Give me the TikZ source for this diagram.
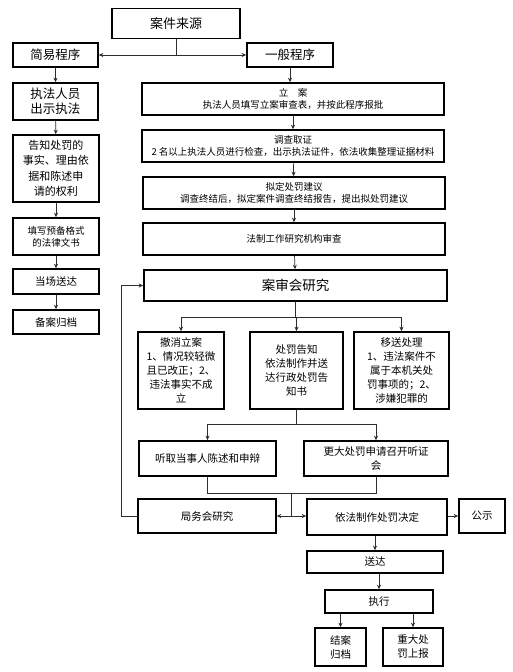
\documentclass[tikz,border=0pt]{standalone}
\usepackage{fontspec}
\usepackage{tikz}
\usetikzlibrary{arrows.meta, positioning, calc}
\newfontfamily\cjk{Noto Sans CJK SC}
\definecolor{mydark}{RGB}{45,45,45}
\tikzset{
  box/.style={rectangle, draw=black, fill=white, line width=1.6pt,
    align=center, inner sep=1pt, font=\cjk\fontsize{10.5}{14}\selectfont},
  bigbox/.style={box, font=\cjk\fontsize{13}{16}\selectfont},
  smallbox/.style={box, font=\cjk\fontsize{9.5}{12}\selectfont},
  arrow/.style={-{Stealth[length=4.5pt,width=4pt]}, line width=0.7pt, color=mydark},
  line/.style={line width=0.7pt, color=mydark}
}
\begin{document}
\begin{tikzpicture}[x=1pt, y=-1pt]
  \fill[white] (0,0) rectangle (512,672);
  \useasboundingbox (0,0) rectangle (512,672);

  % top of the chart
  \node[bigbox, minimum width=128pt, minimum height=30pt] (src) at (176,23.5) {案件来源};
  \node[box, font=\cjk\fontsize{12.5}{15}\selectfont, minimum width=85pt, minimum height=24pt] (simple) at (55.5,55) {简易程序};
  \node[box, font=\cjk\fontsize{12.5}{15}\selectfont, minimum width=86pt, minimum height=24pt] (general) at (290,55) {一般程序};

  % simple procedure
  \node[box, font=\cjk\fontsize{12.5}{15}\selectfont, minimum width=85pt, minimum height=37pt] (show) at (55.5,101.5) {执法人员\\出示执法};
  \node[box, font=\cjk\fontsize{11}{15.5}\selectfont, minimum width=86pt, minimum height=67pt] (notify) at (56,168.5) {告知处罚的\\事实、理由依\\据和陈述申\\请的权利};
  \node[smallbox, minimum width=86pt, minimum height=37pt] (fillin) at (56,236.5) {填写预备格式\\的法律文书};
  \node[box, minimum width=86pt, minimum height=25pt] (spot) at (56,281.5) {当场送达};
  \node[box, minimum width=86pt, minimum height=24pt] (file) at (56,322) {备案归档};

  % general procedure
  \node[smallbox, minimum width=302pt, minimum height=32pt] (lian) at (293,99) {立\quad 案\\执法人员填写立案审查表，并按此程序报批};
  \node[smallbox, minimum width=302pt, minimum height=32pt] (survey) at (293,146) {调查取证\\2 名以上执法人员进行检查，出示执法证件，依法收集整理证据材料};
  \node[smallbox, minimum width=302pt, minimum height=32pt] (propose) at (294,193) {拟定处罚建议\\调查终结后，拟定案件调查终结报告，提出拟处罚建议};
  \node[smallbox, minimum width=302pt, minimum height=32pt] (legal) at (294,239) {法制工作研究机构审查};
  \node[bigbox, font=\cjk\fontsize{13.5}{16}\selectfont, minimum width=303pt, minimum height=31pt] (review) at (295.5,285.5) {案审会研究};

  \node[box, minimum width=86pt, minimum height=77pt] (cancel) at (181,370.5) {撤消立案\\1、情况较轻微\\且已改正；2、\\违法事实不成\\立};
  \node[box, minimum width=93pt, minimum height=77pt] (inform) at (296.5,370.5) {处罚告知\\依法制作并送\\达行政处罚告\\知书};
  \node[box, minimum width=95pt, minimum height=77pt] (transfer) at (401.5,370.5) {移送处理\\1、违法案件不\\属于本机关处\\罚事项的；2、\\涉嫌犯罪的};

  \node[box, minimum width=137pt, minimum height=35pt] (hear) at (207.5,458.5) {听取当事人陈述和申辩};
  \node[box, minimum width=144pt, minimum height=35pt] (hearing) at (376,458.5) {更大处罚申请召开听证\\会};

  \node[box, minimum width=138pt, minimum height=34pt] (bureau) at (207,516) {局务会研究};
  \node[box, minimum width=140pt, minimum height=36pt] (decide) at (377,517) {依法制作处罚决定};
  \node[box, minimum width=46pt, minimum height=34pt] (publish) at (482,516) {公示};

  \node[box, minimum width=136pt, minimum height=22pt] (send) at (375,562) {送达};
  \node[box, minimum width=108pt, minimum height=23pt] (exec) at (379,601.5) {执行};
  \node[box, minimum width=51pt, minimum height=38pt] (close) at (340.5,647) {结案\\归档};
  \node[box, minimum width=60pt, minimum height=38pt] (report) at (413,647) {重大处\\罚上报};

  % split after the case source
  \coordinate (split) at (src.south |- simple.east);
  \draw[line] (src.south) -- (split);
  \draw[arrow] (split) -- (simple.east);
  \draw[arrow] (split) -- (general.west);

  % left column
  \draw[arrow] (simple) -- (show);
  \draw[arrow] (show) -- (notify);
  \draw[arrow] (notify) -- (fillin);
  \draw[arrow] (fillin) -- (spot);
  \draw[arrow] (spot) -- (file);

  % right column
  \draw[arrow] (general.south) -- (general.south |- lian.north);
  \draw[arrow] (lian) -- (survey);
  \draw[arrow] (survey) -- (propose);
  \draw[arrow] (propose) -- (legal);
  \draw[arrow] (legal) -- (review);

  % three results of the review
  \coordinate (fork) at ($(review.south)+(0,16)$);
  \draw[line] (review.south) -- (fork);
  \draw[arrow] (fork) -| (cancel.north);
  \draw[arrow] (fork) -| (transfer.north);
  \draw[arrow] (fork) -- (fork -| inform.north) -- (inform.north);

  % hearing
  \coordinate (fork2) at ($(inform.south)+(0,15)$);
  \draw[line] (inform.south) -- (fork2);
  \draw[arrow] (fork2) -| (hear.north);
  \draw[arrow] (fork2) -| (hearing.north);

  \coordinate (merge) at ($(hear.south)!0.5!(hearing.south)+(0,17)$);
  \draw[line] (hear.south) -- (hear.south |- merge) -- (hearing.south |- merge) -- (hearing.south);
  \coordinate (mid) at (merge |- bureau.east);
  \draw[line] (merge) -- (mid);
  \draw[arrow] (mid) -- (bureau.east);
  \draw[arrow] (mid) -- (mid -| decide.west);

  % back to the review meeting
  \draw[arrow] (bureau.west) -- ++(-16,0) |- (review.west);

  % decision and after
  \draw[arrow] (decide.east |- publish.west) -- (publish.west);
  \draw[arrow] (decide.south -| send.north) -- (send.north);
  \draw[arrow] (send.south -| exec.north) -- (exec.north);
  \draw[arrow] (exec.south -| close.north) -- (close.north);
  \draw[arrow] (exec.south -| report.north) -- (report.north);
\end{tikzpicture}
\end{document}
